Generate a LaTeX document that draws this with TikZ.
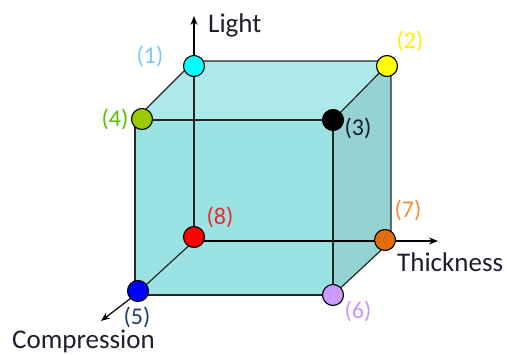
\documentclass[tikz,border=0pt]{standalone}
\usepackage{fontspec}
\setmainfont{Carlito}
\usetikzlibrary{arrows.meta}
\definecolor{topface}{RGB}{174,233,233}
\definecolor{frontface}{RGB}{155,227,227}
\definecolor{rightface}{RGB}{149,211,211}
\definecolor{axistext}{RGB}{30,30,45}
\definecolor{cA}{RGB}{0,255,255}
\definecolor{cB}{RGB}{255,255,0}
\definecolor{cC}{RGB}{0,0,0}
\definecolor{cD}{RGB}{153,204,0}
\definecolor{cE}{RGB}{0,0,255}
\definecolor{cF}{RGB}{204,153,255}
\definecolor{cG}{RGB}{227,108,10}
\definecolor{cH}{RGB}{255,0,0}
\definecolor{tA}{RGB}{120,200,255}
\definecolor{tB}{RGB}{255,240,0}
\definecolor{tC}{RGB}{25,25,50}
\definecolor{tD}{RGB}{90,190,0}
\definecolor{tE}{RGB}{30,60,110}
\definecolor{tF}{RGB}{200,150,255}
\definecolor{tG}{RGB}{245,140,50}
\definecolor{tH}{RGB}{235,40,50}
\tikzset{
  vertex/.style={circle,draw=black,line width=1.1pt,minimum size=21pt,inner sep=0pt},
  edgeline/.style={draw=black!85,line width=1.2pt},
  frontline/.style={draw=black!85,line width=1.6pt},
  axisarrow/.style={draw=black,line width=1.2pt,-{Stealth[length=9pt,width=7pt]}},
  numlabel/.style={font=\fontsize{24}{26}\selectfont,inner sep=0pt},
  axislabel/.style={font=\fontsize{27}{30}\selectfont,text=axistext,inner sep=0pt}
}
\begin{document}
\begin{tikzpicture}[x=1pt,y=-1pt]
\useasboundingbox (0,0) rectangle (507,355);
% cube corners
\coordinate (c1) at (194,61);
\coordinate (c2) at (391,61);
\coordinate (c7) at (391,241);
\coordinate (c8) at (194,241);
\coordinate (c4) at (135,120);
\coordinate (c3) at (333,120);
\coordinate (c6) at (333,295);
\coordinate (c5) at (135,295);
% axis tips
\coordinate (tipL) at (194,16);
\coordinate (tipT) at (438,241);
\coordinate (tipC) at (101,321);
% faces
\fill[topface] (c4) -- (c1) -- (c2) -- (c3) -- cycle;
\fill[rightface] (c3) -- (c2) -- (c7) -- (c6) -- cycle;
\fill[frontface] (c4) -- (c3) -- (c6) -- (c5) -- cycle;
% hidden edges and axes
\draw[edgeline] (c1) -- (c8);
\draw[axisarrow] (c8) -- (tipT);
\draw[edgeline] (c8) -- (c5);
\draw[axisarrow] (c5) -- (tipC);
\draw[axisarrow] (c1) -- (tipL);
% visible edges
\draw[edgeline] (c4) -- (c1) -- (c2) -- (c7) -- (c6);
\draw[edgeline] (c2) -- (c3);
\draw[frontline] (c4) -- (c3) -- (c6) -- (c5) -- cycle;
% vertices
\node[vertex,fill=cA] (p1) at (194,66) {};
\node[vertex,fill=cB] (p2) at (387,66) {};
\node[vertex,fill=cC] (p3) at (333,120) {};
\node[vertex,fill=cD] (p4) at (142,119) {};
\node[vertex,fill=cE] (p5) at (138,291) {};
\node[vertex,fill=cF] (p6) at (333,295) {};
\node[vertex,fill=cG] (p7) at (385,240) {};
\node[vertex,fill=cH] (p8) at (194,237) {};
% number labels
\node[numlabel,text=tA] (l1) at (150,56) {(1)};
\node[numlabel,text=tB] (l2) at (410,41) {(2)};
\node[numlabel,text=tC] (l3) at (358,128) {(3)};
\node[numlabel,text=tD] (l4) at (115,119) {(4)};
\node[numlabel,text=tE] (l5) at (137,317) {(5)};
\node[numlabel,text=tF] (l6) at (358,311) {(6)};
\node[numlabel,text=tG] (l7) at (408,210) {(7)};
\node[numlabel,text=tH] (l8) at (220,217) {(8)};
% axis labels
\node[axislabel,anchor=base west] (light) at (208,33) {Light};
\node[axislabel,anchor=base west] (thick) at (397,272) {Thickness};
\node[axislabel,anchor=base west] (comp) at (12,349) {Compression};
\end{tikzpicture}
\end{document}
